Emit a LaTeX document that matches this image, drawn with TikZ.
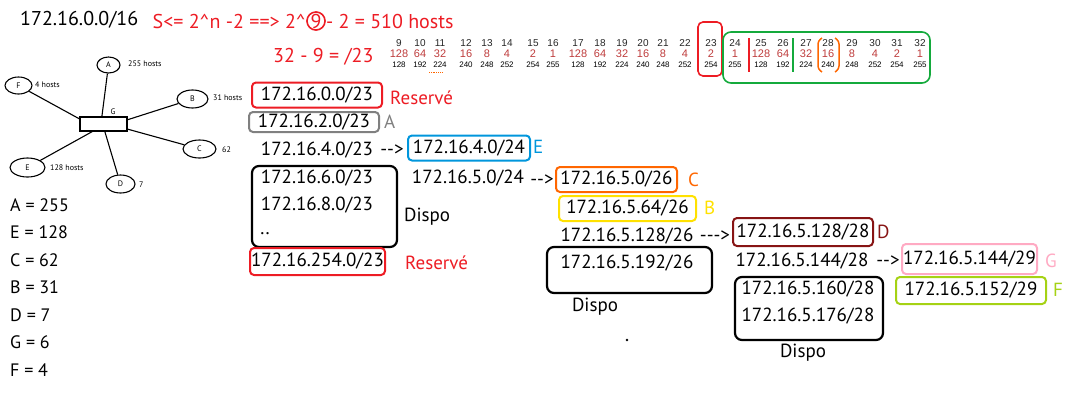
\documentclass[tikz,border=0pt]{standalone}
\usepackage{fontspec}
\setmainfont{PT Sans}
\newfontfamily\tabfont{Liberation Sans}
\usetikzlibrary{positioning,shapes.geometric}
\definecolor{netred}{RGB}{237,28,36}
\definecolor{boxgray}{RGB}{128,128,128}
\definecolor{boxblue}{RGB}{0,150,220}
\definecolor{boxorange}{RGB}{255,102,0}
\definecolor{boxyellow}{RGB}{255,225,0}
\definecolor{boxdarkred}{RGB}{135,20,20}
\definecolor{boxpink}{RGB}{255,170,195}
\definecolor{boxlime}{RGB}{165,210,20}
\definecolor{tabgreen}{RGB}{20,170,60}
\definecolor{tabred}{RGB}{190,60,60}
\newcommand{\dashto}{-\kern0pt-\kern0pt>}
\newcommand{\longdashto}{-\kern0pt-\kern0pt-\kern0pt>}
\tikzset{
  addr/.style={font=\fontsize{19}{22}\selectfont, inner sep=0pt},
  subnet/.style={draw, rounded corners=4pt, line width=2pt, minimum height=25pt, inner sep=0pt},
  spare/.style={draw, rounded corners=7pt, line width=2.2pt},
  tag/.style={font=\fontsize{19}{22}\selectfont, inner sep=0pt, anchor=west},
  calcnote/.style={font=\fontsize{20}{24}\selectfont, inner sep=0pt, text=netred},
  host/.style={draw, ellipse, line width=1.1pt, inner sep=0pt, font=\fontsize{8}{9}\selectfont},
  hostnote/.style={font=\fontsize{8}{9}\selectfont, inner sep=0pt, anchor=west},
  bitnum/.style={font=\tabfont\fontsize{10}{11}\selectfont, inner sep=0pt, text=black!85},
  bitval/.style={font=\tabfont\fontsize{11}{12}\selectfont, inner sep=0pt, text=tabred},
  masknum/.style={font=\tabfont\fontsize{8}{9}\selectfont, inner sep=0pt},
  legend/.style={font=\fontsize{18}{22}\selectfont, inner sep=0pt, anchor=west}
}
\begin{document}
\begin{tikzpicture}[x=1pt, y=-1pt]
  \useasboundingbox (0,0) rectangle (1085,400);

  % heading and calculation
  \node[addr, font=\fontsize{20}{24}\selectfont, anchor=west] (base) at (20,20) {172.16.0.0/16};
  \node[circle, draw=netred, line width=1.6pt, inner sep=0.8pt, calcnote] (nine) at (316,21) {9};
  \node[calcnote, anchor=base east] (calcA) at (nine.base -| nine.west) {S<= 2\textasciicircum n -2 ==> 2\textasciicircum};
  \node[calcnote, anchor=base west] (calcB) at (nine.base -| nine.east) {- 2 = 510 hosts};
  \node[calcnote, anchor=west] (prefix) at (273,57) {32 - 9 = /23};

  % bit table
  \foreach \n/\x in {9/399,10/420,11/440,12/466,13/487,14/507,15/533,16/553,
                     17/578,18/600,19/622,20/643,21/663,22/685,23/711,24/735,
                     25/761,26/783,27/806,28/828,29/852,30/875,31/897,32/920} {
    \pgfmathtruncatemacro{\bv}{2^(7-mod(\n-9,8))}
    \pgfmathtruncatemacro{\mv}{256-\bv}
    \node[bitnum] (bit\n) at (\x,43) {\n};
    \node[bitval] (val\n) at (\x,54) {\bv};
    \node[masknum] (mask\n) at (\x,65) {\mv};
  }
  \draw[boxorange, densely dotted, thick] (429,72) -- (443,72);
  \node[draw=netred, rounded corners=5pt, line width=1.6pt, minimum width=24pt, minimum height=54pt] (col23) at (710,49) {};
  \node[draw=tabgreen, rounded corners=8pt, line width=1.6pt, minimum width=207pt, minimum height=51pt] (hostbits) at (826.5,57.5) {};
  \draw[netred, line width=1.5pt] (749,38) -- (749,72);
  \draw[tabgreen, line width=1.5pt] (793,38) -- (793,72);
  \draw[boxorange, line width=1.5pt, rounded corners=3pt] (822,38) -- (818,41) -- (818,69) -- (822,72);
  \draw[boxorange, line width=1.5pt, rounded corners=3pt] (835,38) -- (839,41) -- (839,69) -- (835,72);

  % network sketch
  \node[draw, line width=1.1pt, minimum width=47pt, minimum height=14pt, inner sep=0pt] (gw) at (103.5,124) {};
  \node[hostnote, anchor=center] (gwt) at (113,112) {G};
  \node[host, minimum width=23pt, minimum height=16pt] (hA) at (108.5,65) {A};
  \node[host, minimum width=27pt, minimum height=17pt] (hF) at (18.5,85.5) {F};
  \node[host, minimum width=31pt, minimum height=18pt] (hB) at (192.5,99) {B};
  \node[host, minimum width=33pt, minimum height=18pt] (hC) at (199.5,149) {C};
  \node[host, minimum width=35pt, minimum height=19pt] (hE) at (27.5,167.5) {E};
  \node[host, minimum width=29pt, minimum height=18pt] (hD) at (120.5,184) {D};
  \node[hostnote] (nA) at (128,64) {255 hosts};
  \node[hostnote] (nF) at (35,85) {4 hosts};
  \node[hostnote] (nB) at (213,98) {31 hosts};
  \node[hostnote] (nC) at (222,150) {62};
  \node[hostnote] (nE) at (50,168) {128 hosts};
  \node[hostnote] (nD) at (139,185) {7};
  \draw[line width=1.1pt] (hA) -- (gw.102);
  \draw[line width=1.1pt] (hF) -- (gw.168);
  \draw[line width=1.1pt] (hB) -- (gw.10);
  \draw[line width=1.1pt] (hC) -- (gw.-12);
  \draw[line width=1.1pt] (hE) -- (gw.214);
  \draw[line width=1.1pt] (hD) -- (gw.-80);

  % host counts
  \foreach \t [count=\i] in {A = 255, E = 128, C = 62, B = 31, D = 7, G = 6, F = 4}
    \node[legend] (cnt\i) at (10,{205+27.5*(\i-1)}) {\t};

  % /23 split
  \node[addr, subnet, draw=netred, minimum width=130pt] (res0) at (317,95) {172.16.0.0/23};
  \node[tag, text=netred] (res0t) at (390,98) {Reservé};
  \node[addr, subnet, draw=boxgray, minimum width=130pt, minimum height=20pt] (netA) at (314,122) {172.16.2.0/23};
  \node[tag, text=boxgray] (netAt) at (384,122) {A};
  \node[addr] (n4) at (317,150) {172.16.4.0/23};
  \node[addr] (to24) at (392,150) {\dashto};
  \node[addr, subnet, draw=boxblue, minimum width=122pt] (netE) at (469,148) {172.16.4.0/24};
  \node[tag, text=boxblue] (netEt) at (533,147) {E};
  \node[spare, minimum width=145pt, minimum height=81pt] (free23) at (324.5,206.5) {};
  \node[addr] (n6) at (317,178) {172.16.6.0/23};
  \node[addr] (n8) at (317,205) {172.16.8.0/23};
  \node[addr] (ndots) at (265,234) {..};
  \node[tag] (free23t) at (404,217) {Dispo};
  \node[addr, subnet, draw=netred, minimum width=135pt, minimum height=27pt] (res254) at (317.5,261.5) {172.16.254.0/23};
  \node[tag, text=netred] (res254t) at (405,263) {Reservé};

  % /24 split
  \node[addr] (n5) at (468,178) {172.16.5.0/24};
  \node[addr] (to26) at (542,180) {\dashto};
  \node[addr, subnet, draw=boxorange, minimum width=121pt] (netC) at (616.5,179.5) {172.16.5.0/26};
  \node[tag, text=boxorange] (netCt) at (688,180) {C};
  \node[addr, subnet, draw=boxyellow, minimum width=137pt] (netB) at (627.5,208.5) {172.16.5.64/26};
  \node[tag, text=boxyellow] (netBt) at (704,208) {B};
  \node[addr] (n128) at (627,236) {172.16.5.128/26};
  \node[addr] (to28) at (715,236) {\longdashto};
  \node[spare, minimum width=165pt, minimum height=46pt] (free26) at (629.5,270) {};
  \node[addr] (n192) at (627,263) {172.16.5.192/26};
  \node[tag, anchor=center] (free26t) at (595,307) {Dispo};
  \fill (627,340) circle (1.3pt);

  % /28 split
  \node[addr, subnet, draw=boxdarkred, minimum width=140pt, minimum height=28pt] (netD) at (803,232) {172.16.5.128/28};
  \node[tag, text=boxdarkred] (netDt) at (877,232) {D};
  \node[addr] (n144) at (802,261) {172.16.5.144/28};
  \node[addr] (to29) at (888,261) {\dashto};
  \node[addr, subnet, draw=boxpink, minimum width=135pt, minimum height=30pt] (netG) at (969.5,259) {172.16.5.144/29};
  \node[tag, text=boxpink] (netGt) at (1045,261) {G};
  \node[addr, subnet, draw=boxlime, minimum width=150pt, minimum height=27pt] (netF) at (971,290.5) {172.16.5.152/29};
  \node[tag, text=boxlime] (netFt) at (1053,290) {F};
  \node[spare, minimum width=148pt, minimum height=63pt] (free28) at (809,308.5) {};
  \node[addr] (n160) at (808,289) {172.16.5.160/28};
  \node[addr] (n176) at (808,316) {172.16.5.176/28};
  \node[tag, anchor=center] (free28t) at (803,353) {Dispo};
\end{tikzpicture}
\end{document}
